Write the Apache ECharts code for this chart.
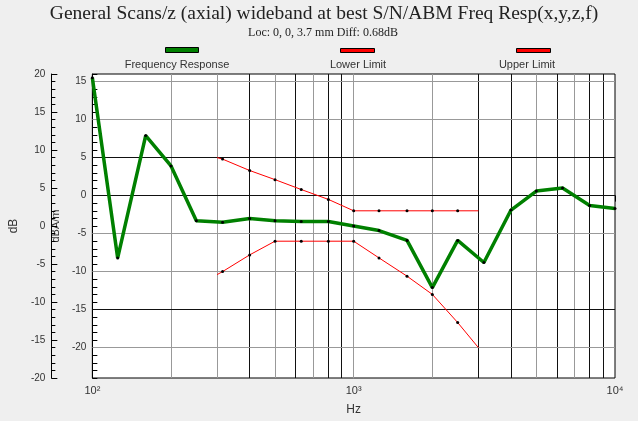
<!DOCTYPE html>
<html><head><meta charset="utf-8">
<script src="https://cdn.jsdelivr.net/npm/echarts@6/dist/echarts.min.js"></script>
<style>html,body{margin:0;padding:0;background:#efefef}#c{width:638px;height:421px}</style>
</head><body><div id="c"></div>
<script>
// ---- data ----
const freqResponseHz = [100,125,160,200,250,315,400,500,630,800,1000,1250,1600,2000,2500,3150,4000,5000,6300,8000,10000];
const freqResponseDb = [15.5,-8.2,7.9,3.9,-3.3,-3.5,-3.0,-3.3,-3.4,-3.4,-4.0,-4.6,-5.9,-12.1,-5.9,-8.8,-1.9,0.6,1.0,-1.3,-1.7];
const limitHz = [300,315,400,500,630,800,1000,1250,1600,2000,2500,3000];
const upperLimitDb = [5.0,4.8,3.3,2.1,0.8,-0.5,-2,-2,-2,-2,-2,-2];
const lowerLimitDb = [-10.4,-10.0,-7.8,-6,-6,-6,-6,-8.2,-10.6,-13.0,-16.7,-20];
const gridFreqs = [200,300,400,500,600,700,800,900,1000,2000,3000,4000,5000,6000,7000,8000,9000];
const gridDb = [15,10,5,0,-5,-10,-15,-20];
const seriesNames = ['Frequency Response','Lower Limit','Upper Limit'];
const titleText = 'General Scans/z (axial) wideband at best S/N/ABM Freq Resp(x,y,z,f)';
const subText = 'Loc: 0, 0, 3.7 mm Diff: 0.68dB';

// ---- styling helpers ----
const darkV = new Set([400,600,800,900,3000,4000,6000,8000,9000]);
const darkH = new Set([5,0,-15]);
const sup = {2:'\u00b2',3:'\u00b3',4:'\u2074'};
const zip = (xs, ys) => xs.map((x, i) => [x, ys[i]]);
const limitSymbol = (v, p) => (p.dataIndex === 0 || p.dataIndex === limitHz.length - 1) ? 'none' : 'circle';
const sans = 'Liberation Sans, Arial, sans-serif';
const serif = 'Liberation Serif, Times New Roman, serif';
const legendLabel = (text, cx) => ({type: 'text', x: cx, y: 59, silent: true,
  style: {text: text, fontSize: 11, fontFamily: sans, fill: '#333', align: 'center', verticalAlign: 'top'}});

const chart = echarts.init(document.getElementById('c'));
chart.setOption({
  animation: false,
  backgroundColor: '#efefef',
  legend: [
    {left: 160, top: 42, itemWidth: 33, itemHeight: 5, formatter: () => '', selectedMode: false,
     data: [{name: seriesNames[0], icon: 'rect', itemStyle: {color: '#008000', borderColor: '#000', borderWidth: 1}}]},
    {left: 335, top: 43, itemWidth: 34, itemHeight: 4, formatter: () => '', selectedMode: false,
     data: [{name: seriesNames[1], icon: 'rect', itemStyle: {color: '#ff0000', borderColor: '#000', borderWidth: 1}}]},
    {left: 511, top: 43, itemWidth: 34, itemHeight: 4, formatter: () => '', selectedMode: false,
     data: [{name: seriesNames[2], icon: 'rect', itemStyle: {color: '#ff0000', borderColor: '#000', borderWidth: 1}}]}
  ],
  graphic: [
    {type: 'text', x: 324, y: 4, silent: true,
     style: {text: titleText, fontSize: 19.5, fontFamily: serif, fill: '#222', align: 'center', verticalAlign: 'top'}},
    {type: 'text', x: 323, y: 27, silent: true,
     style: {text: subText, fontSize: 12, fontFamily: serif, fill: '#222', align: 'center', verticalAlign: 'top'}},
    legendLabel(seriesNames[0], 177),
    legendLabel(seriesNames[1], 358),
    legendLabel(seriesNames[2], 527)
  ],
  grid: {left: 89, right: 23, top: 74, bottom: 39, show: true, backgroundColor: '#ffffff', borderColor: '#000', borderWidth: 1, containLabel: false},
  xAxis: {
    type: 'log', logBase: 10, min: 100, max: 10000,
    name: 'Hz', nameLocation: 'middle', nameGap: 26,
    nameTextStyle: {fontFamily: sans, fontSize: 12, color: '#333'},
    axisLine: {show: true, lineStyle: {color: '#000'}},
    axisTick: {show: true, length: 6, lineStyle: {color: '#000'}},
    axisLabel: {fontFamily: sans, fontSize: 11, color: '#333', margin: 7,
      formatter: v => '10' + sup[Math.round(Math.log10(v))]},
    splitLine: {show: false}, minorTick: {show: false}
  },
  yAxis: [
    {
      type: 'value', position: 'left', min: -24, max: 16, interval: 1,
      name: 'dBA/m', nameLocation: 'middle', nameGap: 25,
      nameTextStyle: {fontFamily: sans, fontSize: 11, color: '#333'},
      axisLine: {show: true, lineStyle: {color: '#000'}},
      axisTick: {show: true, inside: true, length: 5, lineStyle: {color: '#000'}},
      axisLabel: {fontFamily: sans, fontSize: 10, color: '#333', margin: 6,
        formatter: v => (v % 5 === 0 ? String(v) : '')},
      splitLine: {show: false}
    },
    {
      type: 'value', position: 'left', offset: 41, min: -20, max: 20, interval: 5,
      name: 'dB', nameLocation: 'middle', nameGap: 24,
      nameTextStyle: {fontFamily: sans, fontSize: 12, color: '#333'},
      axisLine: {show: true, lineStyle: {color: '#000'}},
      axisTick: {show: true, inside: true, length: 6, lineStyle: {color: '#000'}},
      minorTick: {show: true, splitNumber: 5, length: 4, lineStyle: {color: '#000'}},
      axisLabel: {fontFamily: sans, fontSize: 10, color: '#333', margin: 6},
      splitLine: {show: false}
    }
  ],
  series: [
    {
      type: 'line', name: '_grid', data: [], yAxisIndex: 0, silent: true,
      markLine: {
        silent: true, z: 1, symbol: ['none', 'none'], label: {show: false}, emphasis: {disabled: true},
        lineStyle: {type: 'solid', width: 1},
        data: gridFreqs.map(f => ({xAxis: f, lineStyle: {color: darkV.has(f) ? '#111' : '#999', type: 'solid', width: 1}}))
          .concat(gridDb.map(d => ({yAxis: d, lineStyle: {color: darkH.has(d) ? '#111' : '#999', type: 'solid', width: 1}})))
      }
    },
    {
      type: 'line', name: seriesNames[1], yAxisIndex: 0, z: 3,
      data: zip(limitHz, lowerLimitDb),
      symbol: limitSymbol, symbolSize: 3, showAllSymbol: true,
      lineStyle: {color: '#ff0000', width: 1}, itemStyle: {color: '#000'},
      emphasis: {disabled: true}
    },
    {
      type: 'line', name: seriesNames[2], yAxisIndex: 0, z: 3,
      data: zip(limitHz, upperLimitDb),
      symbol: limitSymbol, symbolSize: 3, showAllSymbol: true,
      lineStyle: {color: '#ff0000', width: 1}, itemStyle: {color: '#000'},
      emphasis: {disabled: true}
    },
    {
      type: 'line', name: seriesNames[0], yAxisIndex: 0, z: 4,
      data: zip(freqResponseHz, freqResponseDb),
      symbol: 'circle', symbolSize: 3, showAllSymbol: true,
      lineStyle: {color: '#008000', width: 3.5}, itemStyle: {color: '#000'},
      emphasis: {disabled: true}
    }
  ]
});
</script></body></html>
